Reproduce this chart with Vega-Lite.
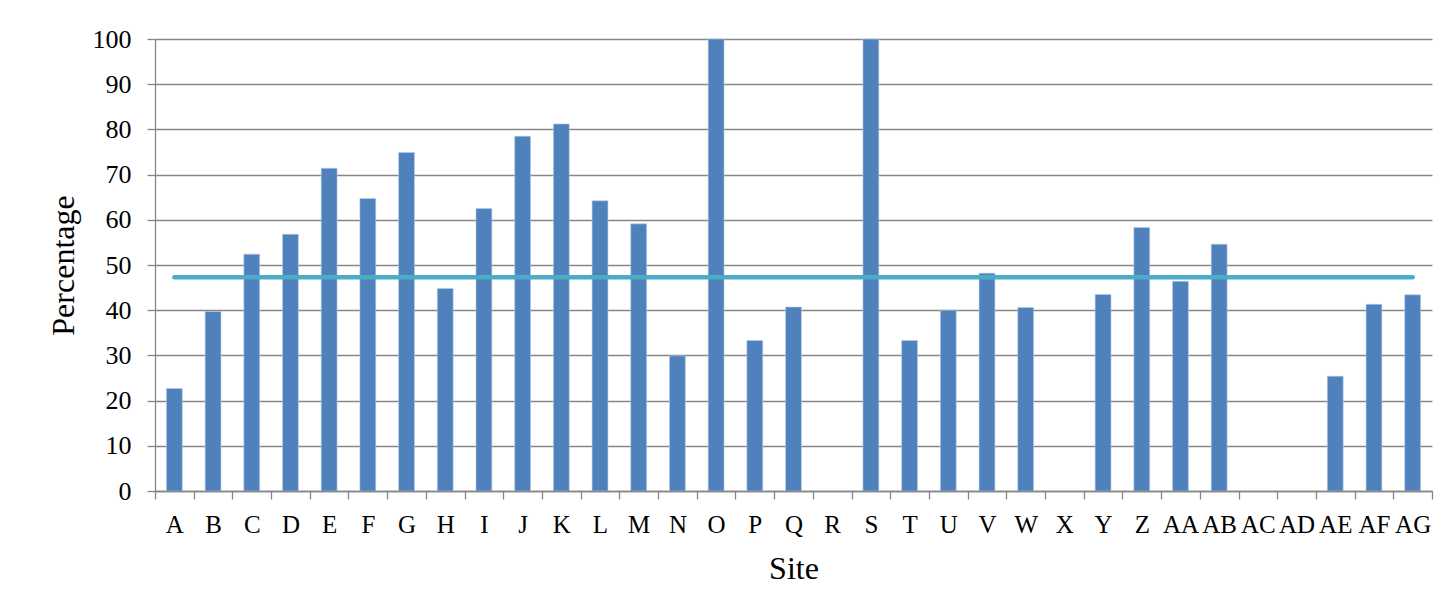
{
  "$schema": "https://vega.github.io/schema/vega-lite/v6.json",
  "width": 1277,
  "height": 452,
  "autosize": {"type": "none"},
  "padding": {"left": 155, "top": 39, "right": 19, "bottom": 121},
  "background": "white",
  "config": {
    "view": {"stroke": null},
    "font": "Liberation Serif",
    "axis": {
      "labelFont": "Liberation Serif",
      "titleFont": "Liberation Serif",
      "labelColor": "black",
      "titleColor": "black",
      "titleFontWeight": "normal",
      "domainColor": "#868686",
      "tickColor": "#868686",
      "gridColor": "#868686",
      "domainWidth": 1.3,
      "tickWidth": 1.3,
      "gridWidth": 1.3
    }
  },
  "data": {
    "values": [
      {"Site": "A", "Percentage": 22.7, "Average": 47.3},
      {"Site": "B", "Percentage": 39.7, "Average": 47.3},
      {"Site": "C", "Percentage": 52.4, "Average": 47.3},
      {"Site": "D", "Percentage": 56.8, "Average": 47.3},
      {"Site": "E", "Percentage": 71.4, "Average": 47.3},
      {"Site": "F", "Percentage": 64.7, "Average": 47.3},
      {"Site": "G", "Percentage": 74.9, "Average": 47.3},
      {"Site": "H", "Percentage": 44.8, "Average": 47.3},
      {"Site": "I", "Percentage": 62.5, "Average": 47.3},
      {"Site": "J", "Percentage": 78.5, "Average": 47.3},
      {"Site": "K", "Percentage": 81.2, "Average": 47.3},
      {"Site": "L", "Percentage": 64.2, "Average": 47.3},
      {"Site": "M", "Percentage": 59.1, "Average": 47.3},
      {"Site": "N", "Percentage": 29.9, "Average": 47.3},
      {"Site": "O", "Percentage": 100, "Average": 47.3},
      {"Site": "P", "Percentage": 33.3, "Average": 47.3},
      {"Site": "Q", "Percentage": 40.7, "Average": 47.3},
      {"Site": "R", "Percentage": null, "Average": 47.3},
      {"Site": "S", "Percentage": 100, "Average": 47.3},
      {"Site": "T", "Percentage": 33.3, "Average": 47.3},
      {"Site": "U", "Percentage": 40.0, "Average": 47.3},
      {"Site": "V", "Percentage": 48.2, "Average": 47.3},
      {"Site": "W", "Percentage": 40.6, "Average": 47.3},
      {"Site": "X", "Percentage": null, "Average": 47.3},
      {"Site": "Y", "Percentage": 43.5, "Average": 47.3},
      {"Site": "Z", "Percentage": 58.3, "Average": 47.3},
      {"Site": "AA", "Percentage": 46.4, "Average": 47.3},
      {"Site": "AB", "Percentage": 54.6, "Average": 47.3},
      {"Site": "AC", "Percentage": null, "Average": 47.3},
      {"Site": "AD", "Percentage": null, "Average": 47.3},
      {"Site": "AE", "Percentage": 25.4, "Average": 47.3},
      {"Site": "AF", "Percentage": 41.3, "Average": 47.3},
      {"Site": "AG", "Percentage": 43.4, "Average": 47.3}
    ]
  },
  "encoding": {
    "x": {
      "field": "Site",
      "type": "nominal",
      "sort": null,
      "scale": {
        "domain": ["A","B","C","D","E","F","G","H","I","J","K","L","M","N","O","P","Q","R","S","T","U","V","W","X","Y","Z","AA","AB","AC","AD","AE","AF","AG"],
        "paddingInner": 0,
        "paddingOuter": 0
      },
      "axis": {
        "title": "Site",
        "labelAngle": 0,
        "labelFontSize": 25,
        "labelPadding": 13,
        "labelBaseline": "top",
        "tickBand": "extent",
        "tickSize": 8,
        "titleFontSize": 32,
        "titleBaseline": "alphabetic",
        "titleY": 87,
        "grid": false,
        "zindex": 1
      }
    }
  },
  "layer": [
    {
      "mark": {"type": "bar", "width": {"band": 0.41}, "color": "#4F81BD", "stroke": "#b9cde5", "strokeWidth": 0.6},
      "encoding": {
        "y": {
          "field": "Percentage",
          "type": "quantitative",
          "scale": {"domain": [0, 100], "nice": false},
          "axis": {
            "title": "Percentage",
            "values": [0,10,20,30,40,50,60,70,80,90,100],
            "labelFontSize": 26,
            "labelPadding": 16,
            "tickSize": 8,
            "grid": true,
            "titleFontSize": 32,
            "titleAngle": -90,
            "titleBaseline": "alphabetic",
            "titleAlign": "center",
            "titleX": -82,
            "titleY": 226,
            "zindex": 0
          }
        }
      }
    },
    {
      "mark": {"type": "line", "color": "#4BACC6", "strokeWidth": 4.5, "strokeCap": "round"},
      "encoding": {
        "y": {"field": "Average", "type": "quantitative"}
      }
    }
  ]
}
